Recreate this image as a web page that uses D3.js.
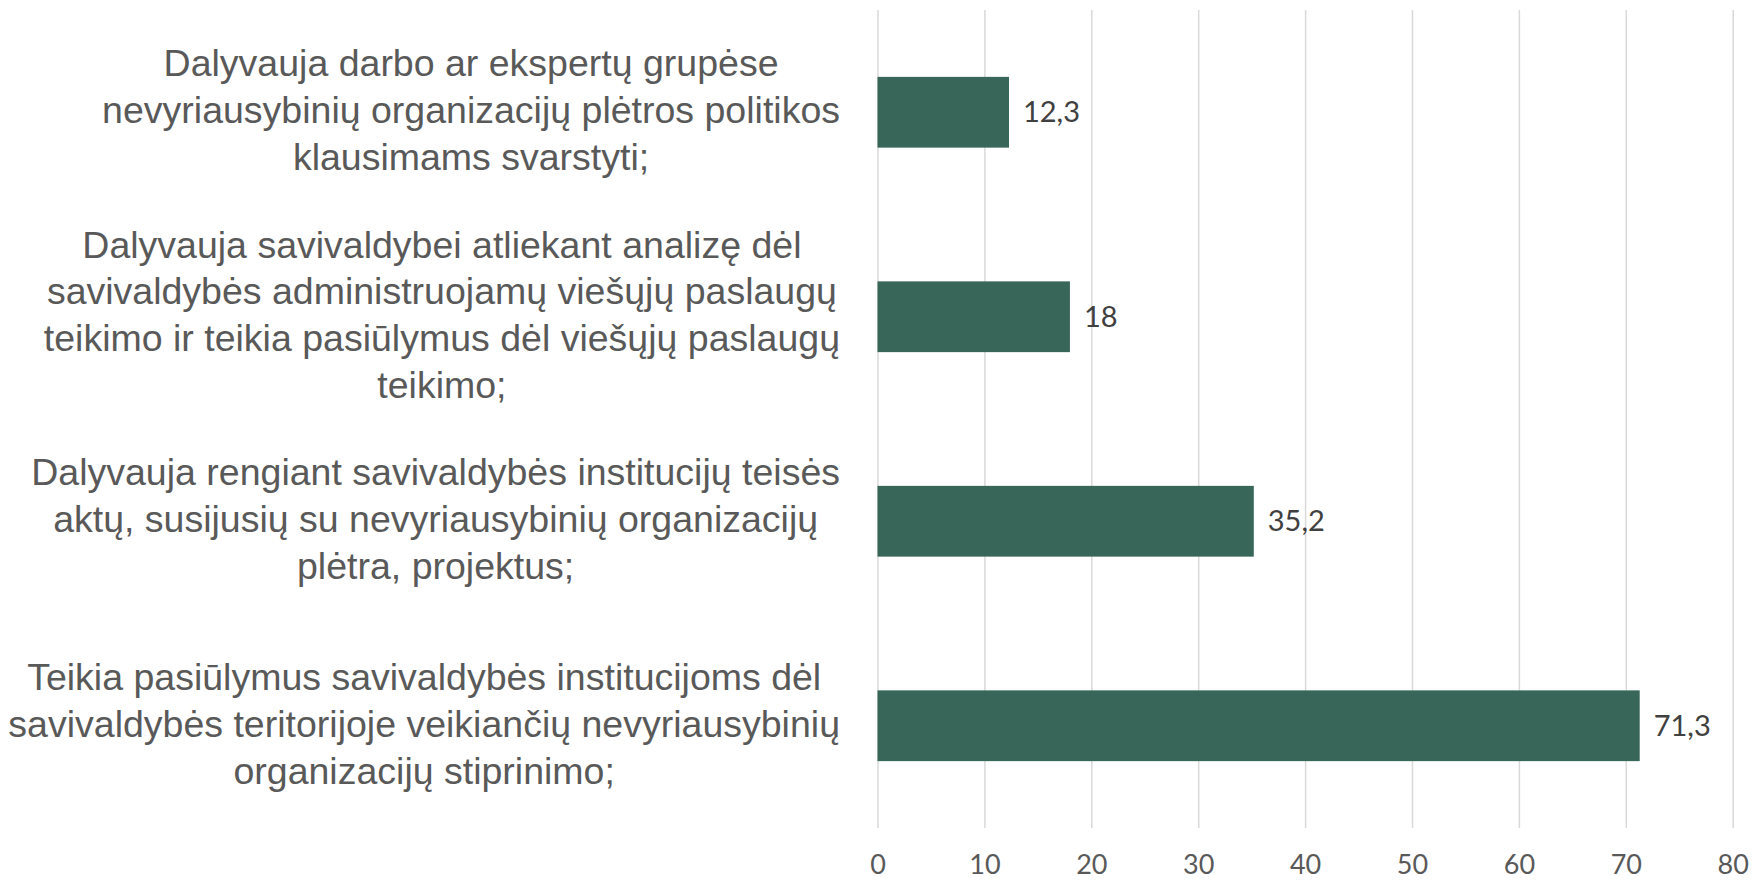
<!DOCTYPE html>
<html>
<head>
<meta charset="utf-8">
<script src="https://cdn.jsdelivr.net/npm/d3@7"></script>
<style>
  body { margin: 0; background: #fff; }
  .cat-label { font: 37.5px "Liberation Sans", Arial, sans-serif; fill: #595959; }
  .val-label { font: 29px Lato, sans-serif; fill: #404040; }
  .x-axis text { font: 27px Lato, sans-serif; fill: #595959; }
  .x-axis line { stroke: #d9d9d9; stroke-width: 1.5; }
</style>
</head>
<body>
<svg id="chart" width="1763" height="880"></svg>
<script>
  // categories, top to bottom, already wrapped the way the original wraps them
  const categories = [
    ["Dalyvauja darbo ar ekspertų grupėse", "nevyriausybinių organizacijų plėtros politikos", "klausimams svarstyti;"],
    ["Dalyvauja savivaldybei atliekant analizę dėl", "savivaldybės administruojamų viešųjų paslaugų", "teikimo ir teikia pasiūlymus dėl viešųjų paslaugų", "teikimo;"],
    ["Dalyvauja rengiant savivaldybės institucijų teisės", "aktų, susijusių su nevyriausybinių organizacijų", "plėtra, projektus;"],
    ["Teikia pasiūlymus savivaldybės institucijoms dėl", "savivaldybės teritorijoje veikiančių nevyriausybinių", "organizacijų stiprinimo;"]
  ];
  const values = [12.3, 18, 35.2, 71.3];
  const xTicks = [0, 10, 20, 30, 40, 50, 60, 70, 80];

  const svg = d3.select("#chart");
  const plot = { left: 877.5, right: 1732.7, top: 10, bottom: 828 };
  const labelRight = 840;
  const lineGap = 46.8;

  const x = d3.scaleLinear().domain([0, 80]).range([plot.left, plot.right]);
  const y = d3.scaleBand()
    .domain(d3.range(categories.length))
    .range([plot.top, plot.bottom])
    .paddingInner(0.654)
    .paddingOuter(0.327);

  // gridlines + tick labels
  svg.append("g")
    .attr("class", "x-axis")
    .attr("transform", `translate(0,${plot.bottom})`)
    .call(d3.axisBottom(x)
      .tickValues(xTicks)
      .tickSize(-(plot.bottom - plot.top))
      .tickPadding(27)
      .tickFormat(d3.format("d")))
    .call(g => g.select(".domain").remove());

  // bars
  svg.append("g")
    .selectAll("rect")
    .data(values)
    .join("rect")
      .attr("x", x(0))
      .attr("y", (d, i) => y(i))
      .attr("width", d => x(d) - x(0))
      .attr("height", y.bandwidth())
      .attr("fill", "#386658");

  // value labels, comma decimals
  const fmt = d => String(d).replace(".", ",");
  svg.append("g")
    .selectAll("text")
    .data(values)
    .join("text")
      .attr("class", "val-label")
      .attr("x", d => x(d) + 14)
      .attr("y", (d, i) => y(i) + y.bandwidth() / 2)
      .attr("dy", "0.35em")
      .text(fmt);

  // category labels: lines centred within a block whose right edge sits at labelRight
  const cats = svg.append("g")
    .selectAll("text")
    .data(categories)
    .join("text")
      .attr("class", "cat-label")
      .attr("text-anchor", "middle");

  cats.each(function(lines, i) {
    const t = d3.select(this);
    const cy = y(i) + y.bandwidth() / 2;
    const n = lines.length;
    t.selectAll("tspan")
      .data(lines)
      .join("tspan")
        .attr("y", (d, j) => cy + (j - (n - 1) / 2) * lineGap + 11)
        .text(d => d);
    let w = 0;
    t.selectAll("tspan").each(function() { w = Math.max(w, this.getComputedTextLength()); });
    t.selectAll("tspan").attr("x", labelRight - w / 2);
  });
</script>
</body>
</html>
